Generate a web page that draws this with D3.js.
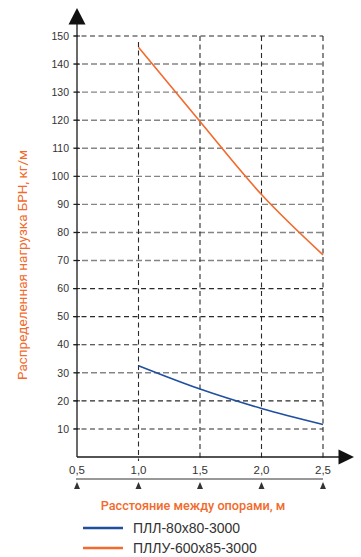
<!DOCTYPE html>
<html><head><meta charset="utf-8">
<script src="https://cdn.jsdelivr.net/npm/d3@7"></script>
<style>html,body{margin:0;padding:0;background:#fff;}svg{display:block;}</style>
</head><body>
<svg id="c" width="361" height="557"></svg>
<script>
const spans = [1.0, 1.5, 2.0, 2.5];
const pllValues = [32.5, 24.2, 17.3, 11.6];
const plluValues = [146, 119.5, 93.5, 72];
const xTicks = [0.5, 1.0, 1.5, 2.0, 2.5];
const xTickLabels = ["0,5", "1,0", "1,5", "2,0", "2,5"];
const yTicks = [10,20,30,40,50,60,70,80,90,100,110,120,130,140,150];
const greyRows = [140,130,120,110,100,90,80,70,30];
const seriesNames = ["ПЛЛ-80х80-3000", "ПЛЛУ-600х85-3000"];
const seriesColors = ["#1f4f9e", "#f26a2c"];
const orange = "#f26a2c";

const svg = d3.select("#c");
const x = d3.scaleLinear().domain([0.5, 2.5]).range([77, 323]);
const y = d3.scaleLinear().domain([0, 150]).range([457, 36]);
const tickFont = "'Liberation Sans', Arial, sans-serif";

// horizontal grid
svg.append("g").selectAll("line").data(yTicks).join("line")
  .attr("x1", 73).attr("x2", x(2.5))
  .attr("y1", d => y(d)).attr("y2", d => y(d))
  .attr("stroke", d => greyRows.includes(d) ? "#858585" : "#2a2a2a")
  .attr("stroke-width", d => greyRows.includes(d) ? 1.4 : 1.1)
  .attr("stroke-dasharray", d => greyRows.includes(d) ? "6,3" : "5,3.5");

// vertical grid
svg.append("g").selectAll("line").data(xTicks.slice(1)).join("line")
  .attr("x1", d => x(d)).attr("x2", d => x(d))
  .attr("y1", d => d === 1.0 ? 42 : y(150)).attr("y2", 461)
  .attr("stroke", "#2a2a2a").attr("stroke-width", 1.1)
  .attr("stroke-dasharray", "5,3.5");

// axes lines
svg.append("line").attr("x1", x(0.5)).attr("x2", x(0.5)).attr("y1", 20).attr("y2", y(0))
  .attr("stroke", "#1a1a1a").attr("stroke-width", 1.3);
svg.append("line").attr("x1", x(0.5)).attr("x2", 342).attr("y1", y(0)).attr("y2", y(0))
  .attr("stroke", "#1a1a1a").attr("stroke-width", 1.3);
svg.append("path").attr("d", "M68.5,24.5L85.5,24.5L77,8Z").attr("fill", "#111");
svg.append("path").attr("d", "M338.5,449.5L338.5,464.5L354,457Z").attr("fill", "#111");

// y ticks
svg.append("g").selectAll("line").data(yTicks).join("line")
  .attr("x1", 74).attr("x2", 80).attr("y1", d => y(d)).attr("y2", d => y(d))
  .attr("stroke", "#1a1a1a").attr("stroke-width", 1);
svg.append("g").selectAll("text").data(yTicks).join("text")
  .attr("x", 69).attr("y", d => y(d) + 3.7).attr("text-anchor", "end")
  .attr("font-family", tickFont).attr("font-size", 10.5).attr("fill", "#333")
  .text(d => d);

// x tick labels
svg.append("g").selectAll("text").data(xTicks).join("text")
  .attr("x", d => x(d)).attr("y", 473.5).attr("text-anchor", "middle")
  .attr("font-family", tickFont).attr("font-size", 11.5).attr("fill", "#333")
  .text((d, i) => xTickLabels[i]);

// bottom ruler
svg.append("line").attr("x1", x(0.5) - 1).attr("x2", x(2.5)).attr("y1", 479).attr("y2", 479)
  .attr("stroke", "#333").attr("stroke-width", 1);
svg.append("g").selectAll("path").data(xTicks).join("path")
  .attr("d", d => `M${x(d) - 3},489L${x(d) + 3},489L${x(d)},482Z`).attr("fill", "#333");

// series
const line = d3.line().x(d => x(d[0])).y(d => y(d[1])).curve(d3.curveMonotoneX);
[pllValues, plluValues].forEach((vals, i) => {
  svg.append("path").datum(spans.map((s, j) => [s, vals[j]]))
    .attr("d", line).attr("fill", "none")
    .attr("stroke", seriesColors[i]).attr("stroke-width", 1.6);
});

// titles
svg.append("text").attr("x", 193).attr("y", 510).attr("text-anchor", "middle")
  .attr("font-family", "Roboto, sans-serif").attr("font-weight", 500).attr("font-size", 12.7)
  .attr("fill", orange).text("Расстояние между опорами, м");
svg.append("text").attr("transform", "translate(27,265) rotate(-90)").attr("text-anchor", "middle")
  .attr("font-family", "Roboto, sans-serif").attr("font-size", 13.5)
  .attr("fill", orange).text("Распределенная нагрузка БРН, кг/м");

// legend
seriesNames.forEach((name, i) => {
  const ly = 528 + i * 20;
  svg.append("line").attr("x1", 83).attr("x2", 123).attr("y1", ly).attr("y2", ly)
    .attr("stroke", seriesColors[i]).attr("stroke-width", 2.5);
  svg.append("text").attr("x", 133).attr("y", ly + 4.5)
    .attr("font-family", "'Liberation Sans Narrow', 'Arial Narrow', sans-serif")
    .attr("font-size", 14).attr("fill", "#333").text(name);
});
</script>
</body></html>
